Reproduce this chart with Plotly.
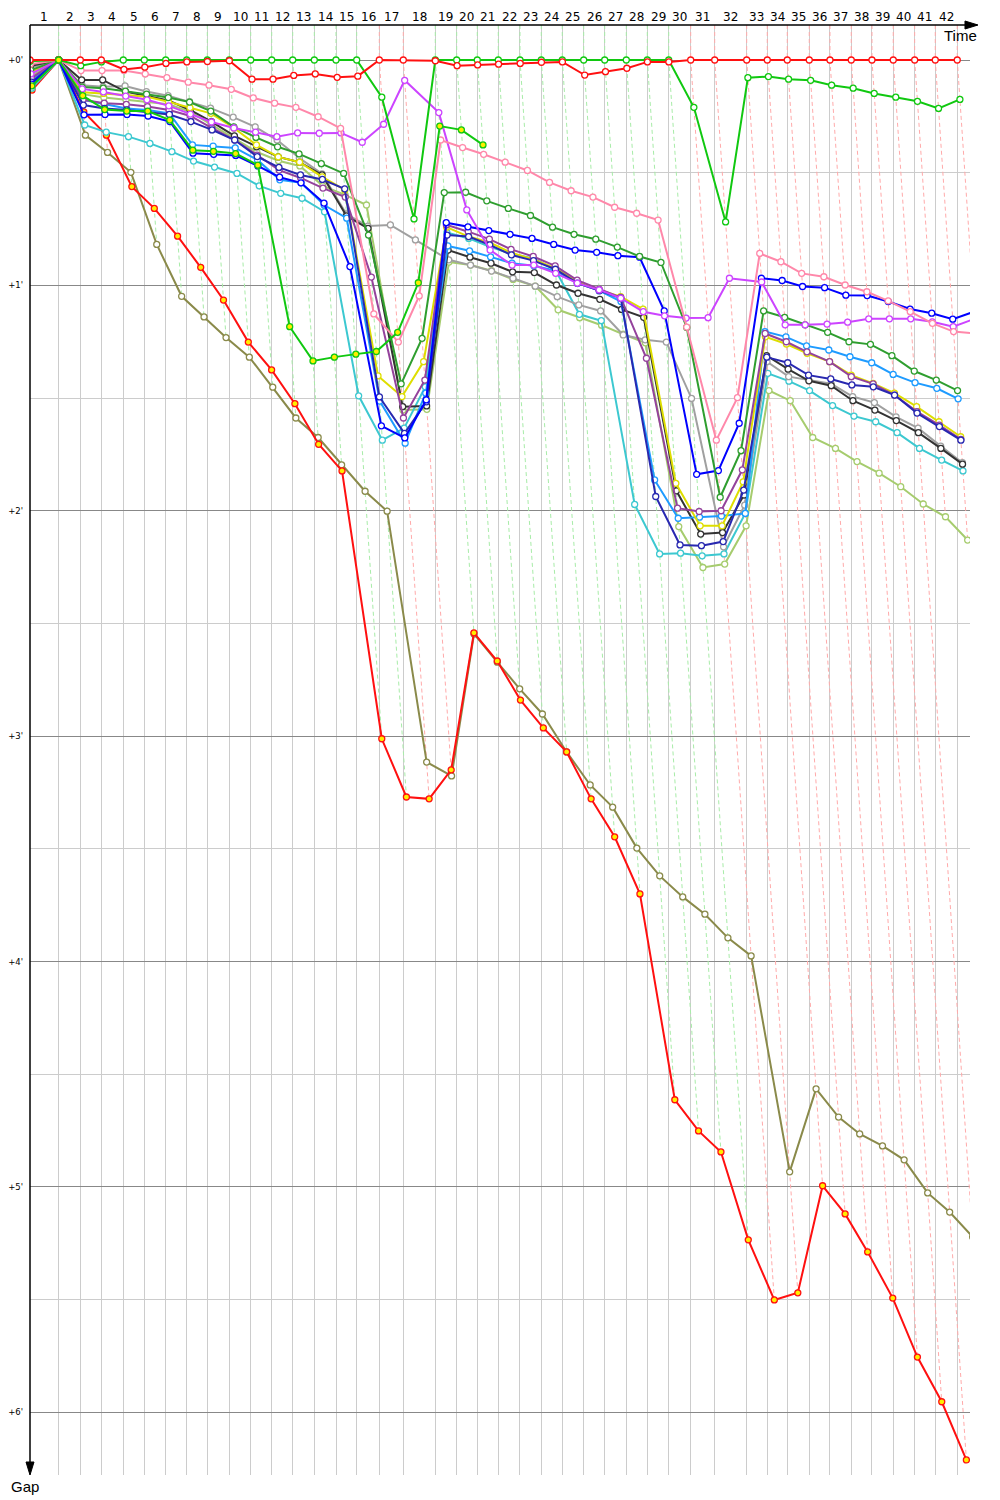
import plotly.graph_objects as go

# ---------------- data ----------------
# leader lap times (seconds), laps 1..42
lap_times = [113.3, 85.3, 82.9, 86.8, 82.9, 84.5, 82.9, 81.3, 86.8, 84.5,
             82.9, 82.9, 85.3, 85.6, 81.7, 89.2, 94.7, 126.3, 84.5, 81.3,
             82.9, 85.6, 84.1, 82.9, 84.5, 82.9, 85.3, 82.9, 84.5, 86.8,
             94.7, 126.3, 81.3, 78.9, 86.8, 81.7, 84.1, 81.7, 84.1, 84.5,
             81.3, 86.8]
lap_labels = [str(i) for i in range(1, 43)]

# gap to leader (seconds) at the end of each lap, index 0 = start
gap_red = [0, 0, 0, 0, 2.5, 1.9, 0.9, 0.5, 0.4, 0.2, 5.1, 5.1, 4.1, 3.7, 4.6, 4.3, 0, 0, 0.2, 1.5,
           1.3, 1.1, 0.9, 0.6, 0.5, 4.0, 3.1, 2.2, 0.5, 0.5, 0, 0, 0, 0, 0, 0, 0, 0, 0, 0, 0, 0, 0]
gap_green = [0.3, 0, 1.5, 0.5, 0, 0, 0, 0, 0, 0, 0, 0, 0, 0, 0, 0, 9.9, 42.3, 0, 0,
             0, 0, 0, 0, 0, 0, 0, 0, 0, 0, 12.6, 43.1, 4.7, 4.4, 5.1, 5.4, 6.7, 7.5, 8.9, 9.9,
             11.0, 12.9, 10.5]
gap_green2 = [6.9, 0, 9.5, 13.2, 13.6, 13.6, 16.0, 24.0, 24.3, 24.9, 28.0, 71.0, 80.1, 79.1, 78.3,
              77.6, 72.5, 59.3, 17.6, 18.6, 22.6]
gap_pink = [1.1, 0, 2.8, 2.8, 2.8, 3.7, 4.7, 5.9, 6.7, 7.8, 10.1, 11.5, 12.6, 15.1, 18.2, 67.6, 75.1,
            62.8, 21.3, 23.3, 25.1, 27.2, 29.4, 32.6, 34.8, 36.5, 39.2, 40.8, 42.6, 71.1, 101.2, 89.9,
            51.5, 53.7, 56.8, 57.7, 59.9, 61.7, 64.1, 67.0, 70.1, 72.3, 72.8]
gap_violet = [3.7, 0, 7.7, 8.5, 9.6, 10.6, 12.2, 14.4, 16.5, 18.1, 19.2, 20.4, 19.4, 19.5, 19.4, 21.9,
              17.1, 5.4, 14.0, 39.9, 50.6, 54.6, 54.6, 56.8, 59.4, 61.2, 63.4, 67.0, 68.1, 68.7, 68.6,
              58.1, 59.1, 70.5, 70.5, 70.3, 69.8, 68.9, 68.9, 68.9, 69.7, 71.0, 68.9]
gap_forest = [2.7, 0, 7.2, 7.5, 8.3, 9.1, 10.0, 11.2, 13.6, 17.8, 20.6, 23.1, 25.0, 27.6, 30.2, 46.6,
              86.2, 74.1, 35.3, 35.2, 37.5, 39.5, 41.4, 44.5, 46.4, 47.7, 49.8, 52.3, 53.9, 71.2,
              116.4, 104.0, 66.8, 68.5, 70.5, 72.5, 75.0, 75.7, 78.7, 82.8, 85.2, 88.0]
gap_blue = [6.4, 0, 14.6, 14.5, 14.5, 14.9, 16.4, 24.8, 25.1, 25.4, 28.2, 31.2, 32.7, 38.1, 55.0, 97.4,
            100.6, 90.5, 43.3, 44.4, 45.4, 46.4, 47.5, 49.1, 50.6, 51.2, 52.1, 52.5, 66.8, 110.3,
            109.3, 96.7, 58.1, 58.7, 60.3, 60.6, 62.6, 62.7, 64.3, 66.3, 67.4, 69.0, 67.0]
gap_navy = [5.9, 0, 12.0, 12.9, 13.3, 13.8, 14.5, 16.4, 18.6, 21.3, 25.7, 28.6, 30.6, 31.8, 34.3, 89.7,
            99.4, 91.0, 46.6, 47.0, 49.2, 51.9, 53.4, 55.7, 59.4, 61.4, 63.4, 116.2, 129.1, 129.3,
            128.2, 114.5, 79.1, 80.6, 83.9, 84.9, 86.5, 87.0, 89.2, 94.0, 97.6, 101.2]
gap_purple = [4.8, 0, 10.6, 11.5, 11.8, 12.4, 13.3, 14.9, 18.1, 21.3, 25.3, 29.3, 31.4, 34.1, 36.5,
              57.8, 95.3, 85.2, 43.9, 45.7, 47.7, 50.4, 52.3, 54.8, 58.6, 61.0, 63.2, 79.4, 119.3,
              120.2, 120.0, 109.1, 72.8, 75.0, 77.7, 80.3, 84.3, 86.2, 89.2, 93.6, 97.2, 101.0]
gap_yellow = [3.2, 0, 8.6, 8.9, 9.3, 9.8, 11.1, 12.7, 14.2, 18.1, 22.6, 25.8, 27.2, 31.1, 34.6, 84.1,
              89.6, 80.3, 44.5, 47.0, 48.6, 51.3, 53.1, 55.4, 59.0, 61.2, 63.0, 66.3, 112.7, 124.0,
              124.0, 112.3, 73.7, 75.6, 78.1, 80.3, 83.9, 86.1, 88.7, 92.3, 96.3, 100.3]
gap_dodger = [5.3, 0, 10.6, 11.8, 12.9, 13.3, 14.2, 22.6, 22.9, 23.4, 26.6, 31.9, 32.7, 38.6, 42.1,
              90.8, 102.0, 88.7, 49.5, 50.8, 52.4, 54.1, 54.8, 56.1, 59.4, 61.4, 64.3, 111.8, 122.0,
              121.7, 121.4, 120.7, 72.3, 73.7, 76.1, 77.2, 79.0, 80.6, 83.7, 85.9, 87.4, 90.2]
gap_black = [1.6, 0, 5.3, 5.3, 8.4, 9.6, 10.8, 13.3, 16.4, 20.2, 23.1, 25.8, 27.2, 30.6, 41.5, 44.8,
             92.3, 92.1, 50.6, 52.5, 54.1, 56.4, 56.6, 59.9, 62.1, 63.7, 66.4, 68.5, 114.7, 126.2,
             125.8, 115.8, 78.7, 82.3, 85.4, 86.7, 90.7, 93.2, 96.0, 99.2, 103.4, 107.6]
gap_gray = [2.1, 0, 6.7, 7.1, 6.9, 8.4, 9.5, 11.1, 12.8, 15.2, 17.8, 21.3, 26.1, 30.3, 41.0, 44.2,
            43.9, 47.9, 53.2, 54.6, 56.2, 58.1, 60.2, 63.0, 65.2, 66.8, 73.2, 74.5, 75.1, 90.1,
            129.6, 118.5, 80.3, 84.3, 85.2, 86.2, 89.6, 91.2, 95.0, 98.0, 102.8, 107.2]
gap_turq = [7.5, 0, 17.3, 19.2, 20.4, 22.2, 24.4, 26.9, 28.5, 30.2, 33.5, 35.5, 36.8, 40.4, 89.4,
            101.2, 98.0, 87.0, 45.9, 47.5, 49.7, 51.6, 52.8, 55.9, 67.7, 69.4, 118.3, 131.5, 131.3,
            132.0, 131.5, 120.7, 83.4, 85.5, 88.0, 92.0, 94.8, 96.3, 99.2, 103.4, 106.5, 109.4]
gap_ygreen = [4.3, 0, 9.1, 10.0, 10.6, 11.1, 11.8, 13.8, 17.3, 20.8, 24.5, 26.8, 28.2, 33.5, 35.9,
              38.6, 93.2, 93.0, 53.8, 54.6, 56.1, 58.4, 60.2, 66.5, 68.6, 70.6, 73.0, 75.3, 124.2,
              135.1, 134.2, 124.0, 88.0, 90.7, 100.5, 103.4, 106.9, 110.0, 113.6, 118.2, 121.6, 127.8]
gap_darkred = [8.0, 0, 13.8, 20.0, 33.7, 39.5, 46.9, 55.2, 63.9, 75.1, 82.5, 91.5, 102.3, 109.4,
               180.7, 196.2, 196.7, 189.0, 152.5, 160.0, 170.4, 177.8, 184.2, 196.7, 206.8, 222.0,
               276.8, 285.1, 290.7, 314.1, 330.1, 328.2, 299.7, 307.2, 317.3, 329.6, 345.3, 357.2,
               372.7]
gap_olive = [7.5, 0, 20.0, 24.6, 29.9, 49.1, 62.9, 68.4, 73.9, 79.1, 87.1, 95.3, 100.5, 107.8, 114.8,
             120.1, 186.9, 190.6, 152.8, 160.3, 167.4, 174.1, 184.2, 193.0, 198.9, 209.8, 217.2,
             222.8, 227.4, 233.7, 238.5, 296.0, 273.9, 281.4, 285.9, 289.1, 292.8, 301.6, 306.7,
             313.3]

gap_ticks = [0, 60, 120, 180, 240, 300, 360]
gap_tick_text = ["+0'", "+1'", "+2'", "+3'", "+4'", "+5'", "+6'"]

# ---------------- styling ----------------
# (gaps, line colour, marker fill, dashed-lap-line colour when leading)
series = [
    (gap_olive, '#8a8a4a', 'white', None),
    (gap_darkred, '#ff1010', '#ffee00', None),
    (gap_ygreen, '#a6cc6e', 'white', None),
    (gap_turq, '#3cc8d0', 'white', None),
    (gap_gray, '#a0a0a0', 'white', None),
    (gap_black, '#333333', 'white', None),
    (gap_dodger, '#1e9bff', 'white', None),
    (gap_yellow, '#dede00', 'white', None),
    (gap_purple, '#94429c', 'white', None),
    (gap_navy, '#2828b0', 'white', None),
    (gap_blue, '#0000ff', 'white', None),
    (gap_forest, '#2f9e2f', 'white', None),
    (gap_violet, '#cc44ff', 'white', None),
    (gap_pink, '#ff88aa', 'white', None),
    (gap_green, '#10c810', 'white', '#a8eca8'),
    (gap_red, '#ff1010', 'white', '#ffaaaa'),
    (gap_green2, '#10c810', '#ffee00', None),
]

X_MAX = 3710.5          # seconds across the plot width
Y_TOP, Y_BOTTOM = -9.32, 376.7

# cumulative leader time at each lap end
T = [0.0]
for lt in lap_times:
    T.append(T[-1] + lt)

fig = go.Figure()

# dashed lap lines coloured by the leader of that lap
dash_x = {}
dash_y = {}
for L in range(1, len(T)):
    cands = [(s[0][L], i) for i, s in enumerate(series) if len(s[0]) > L]
    lead_val = min(c[0] for c in cands)
    leaders = [i for g, i in cands if g == lead_val]
    lead_col = None
    for i in reversed(leaders):
        if series[i][3]:
            lead_col = series[i][3]
    if lead_col is None:
        lead_col = '#a8eca8'
    gmax = max(c[0] for c in cands)
    dash_x.setdefault(lead_col, []).extend([T[L], T[L], T[L] + gmax, None])
    dash_y.setdefault(lead_col, []).extend([Y_TOP, 0, gmax, None])

for col in dash_x:
    fig.add_trace(go.Scatter(x=dash_x[col], y=dash_y[col], mode='lines',
                             line=dict(color=col, width=1, dash='4px,3px'),
                             hoverinfo='skip', showlegend=False))

for gaps, col, fill, _ in series:
    xs = [T[i] + g for i, g in enumerate(gaps)]
    fig.add_trace(go.Scatter(x=xs, y=gaps, mode='lines+markers',
                             line=dict(color=col, width=2),
                             marker=dict(size=6, color=fill, line=dict(color=col, width=1.3)),
                             hoverinfo='skip', showlegend=False))

# lap number labels
for L in range(1, len(T)):
    fig.add_annotation(x=(T[L - 1] + T[L]) / 2, xref='x', y=1.0055, yref='paper',
                       text=lap_labels[L - 1], showarrow=False, xanchor='center', yanchor='middle',
                       font=dict(family='DejaVu Sans', size=12, color='black'))

fig.add_annotation(x=0.9894, xref='paper', y=0.9931, yref='paper', text='Time', showarrow=False,
                   xanchor='center', yanchor='middle',
                   font=dict(family='Liberation Sans', size=15, color='black'))
fig.add_annotation(x=-0.0053, xref='paper', y=-0.0076, yref='paper', text='Gap', showarrow=False,
                   xanchor='center', yanchor='middle',
                   font=dict(family='Liberation Sans', size=15, color='black'))

# axis lines with arrowheads
fig.add_shape(type='line', xref='paper', yref='paper', x0=0, x1=1.0075, y0=1, y1=1,
              line=dict(color='black', width=1.5))
fig.add_shape(type='line', xref='paper', yref='paper', x0=0, x1=0, y0=1, y1=0.006,
              line=dict(color='black', width=1.5))
fig.add_shape(type='path', xref='paper', yref='paper', xsizemode='pixel', ysizemode='pixel',
              xanchor=1.0085, yanchor=1, path='M0,0 L-13,4 L-13,-4 Z',
              fillcolor='black', line=dict(color='black', width=1))
fig.add_shape(type='path', xref='paper', yref='paper', xsizemode='pixel', ysizemode='pixel',
              xanchor=0, yanchor=0, path='M0,0 L-4,13 L4,13 Z',
              fillcolor='black', line=dict(color='black', width=1))

# page body has an 8px margin, so the figure is shifted by 8px; compensate
fig.update_layout(
    width=992, height=1492,
    margin=dict(l=22, r=30, t=17, b=25, pad=0, autoexpand=False),
    plot_bgcolor='white', paper_bgcolor='white',
    xaxis=dict(range=[0, X_MAX], tickmode='array', tickvals=T[1:], showticklabels=False,
               showgrid=True, gridcolor='#cccccc', gridwidth=1, zeroline=False, showline=False,
               ticks='', automargin=False),
    yaxis=dict(range=[Y_BOTTOM, Y_TOP], tickmode='array', tickvals=gap_ticks,
               ticktext=gap_tick_text, tickfont=dict(family='DejaVu Sans', size=8.5, color='black'),
               showgrid=True, gridcolor='#888888', gridwidth=1, zeroline=False, showline=False,
               ticks='', ticklabelstandoff=6, automargin=False,
               minor=dict(tickmode='array', tickvals=[30, 90, 150, 210, 270, 330],
                          showgrid=True, gridcolor='#cccccc', gridwidth=1)),
)

fig.write_html("out.html")
